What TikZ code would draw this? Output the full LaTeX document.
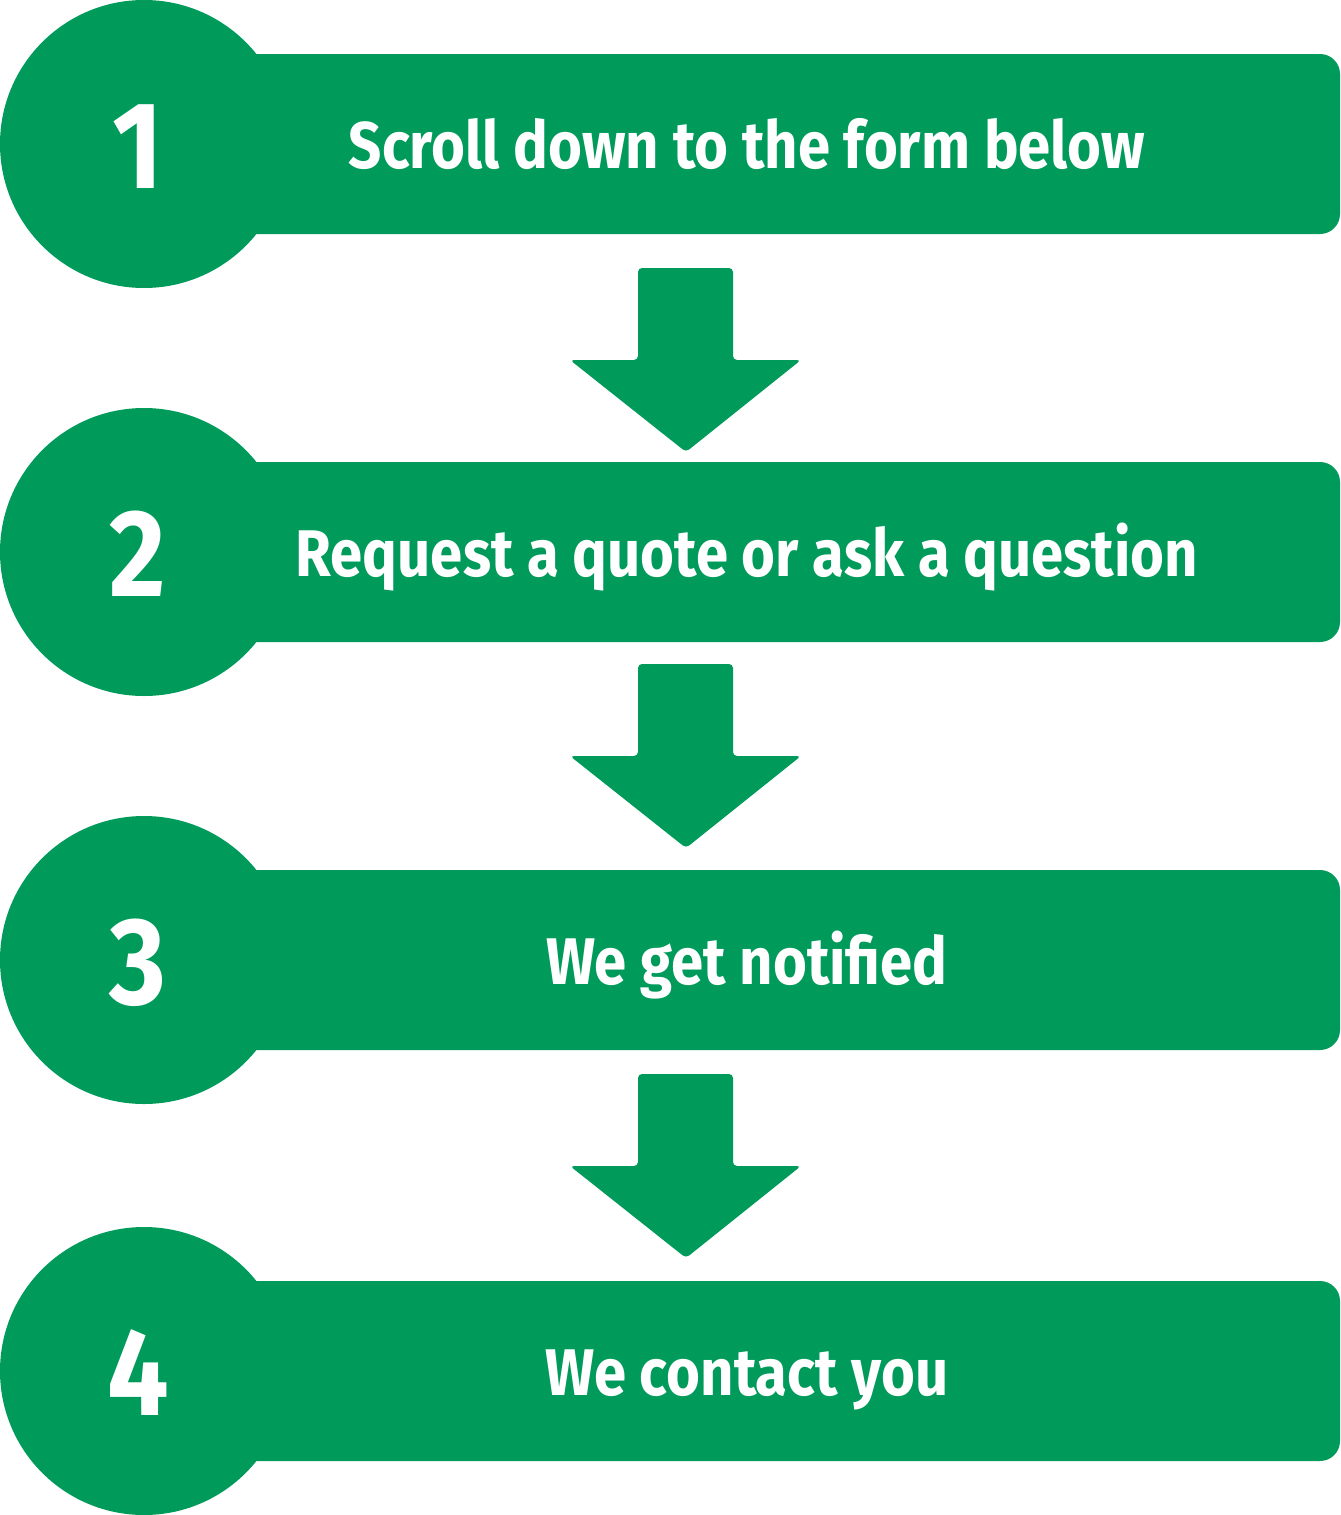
\documentclass[tikz,border=0pt]{standalone}
\usepackage{fontspec}
\setmainfont{Fira Sans}[FakeStretch=0.88]
\usetikzlibrary{positioning}
\definecolor{stepGreen}{RGB}{0,155,91}

\begin{document}
\begin{tikzpicture}[x=0.5pt,y=-0.5pt,
  stepcircle/.style={circle,fill=stepGreen,minimum size=144pt,inner sep=0pt},
  stepnum/.style={anchor=base,text=white,inner sep=0pt,font=\fontsize{62}{62}\selectfont\bfseries},
  steptext/.style={anchor=base,text=white,inner sep=0pt,font=\fontsize{33}{33}\selectfont\bfseries},
  downarrow/.style={fill=stepGreen,rounded corners=2pt}]
  \useasboundingbox (0,0) rectangle (1340,1515);
  % steps: number / centre y / text
  \foreach \n/\y/\txt in {1/144/Scroll down to the form below,
                          2/552/Request a quote or ask a question,
                          3/960/We get notified,
                          4/1371/We contact you}{
    \fill[stepGreen,rounded corners=10pt] (144,\y-90) rectangle (1340,\y+90);
    \node[stepcircle] (c\n) at (144,\y) {};
    \node[stepnum] (n\n) at (138,\y+44) {\n};
    \node[steptext] (t\n) at (747,\y+24) {\txt};
  }
  % arrows between the steps
  \foreach \t in {268,664,1074}{
    \fill[downarrow] (638,\t) -- (733,\t) -- (733,\t+92) -- (801,\t+92)
      -- (686,\t+184) -- (570,\t+92) -- (638,\t+92) -- cycle;
  }
\end{tikzpicture}
\end{document}
